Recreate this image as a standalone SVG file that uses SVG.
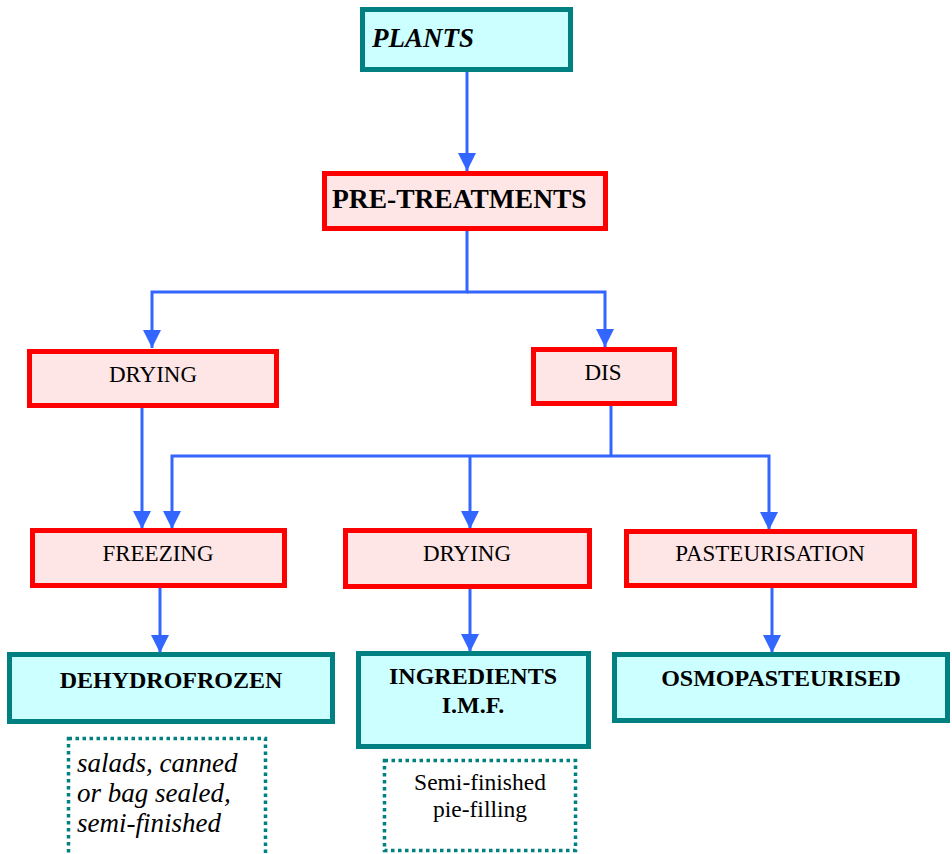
<svg xmlns="http://www.w3.org/2000/svg" width="952" height="854" viewBox="0 0 952 854">
<defs>
<marker id="arr" viewBox="0 0 18 18" refX="18" refY="9" markerWidth="18" markerHeight="18" markerUnits="userSpaceOnUse" orient="auto">
<path d="M0 0 L18 9 L0 18 z" fill="#3366FF"/>
</marker>
<style>
.red{fill:#FFE6E6;stroke:#FF0000;stroke-width:5}
.teal{fill:#CCFFFF;stroke:#008080;stroke-width:5}
.dot{fill:none;stroke:#008080;stroke-width:3.5;stroke-dasharray:3.5 3.5}
.c{fill:none;stroke:#3366FF;stroke-width:3}
text{font-family:"Liberation Serif","Times New Roman",serif;fill:#000}
.n{font-size:23px;text-anchor:middle}
.b{font-size:24px;font-weight:bold;text-anchor:middle}
.it{font-size:27px;font-style:italic}
</style>
</defs>
<rect width="952" height="854" fill="#fff"/>
<g id="connectors">
<path class="c" d="M467 72 V171" marker-end="url(#arr)"/>
<path class="c" d="M467 231 V292 H152 V348" marker-end="url(#arr)"/>
<path class="c" d="M467 292 H605 V347" marker-end="url(#arr)"/>
<path class="c" d="M142 408 V529" marker-end="url(#arr)"/>
<path class="c" d="M611 406 V456"/>
<path class="c" d="M611 456 H172 V529" marker-end="url(#arr)"/>
<path class="c" d="M611 456 H769 V530" marker-end="url(#arr)"/>
<path class="c" d="M470 456 V529" marker-end="url(#arr)"/>
<path class="c" d="M160 588 V653" marker-end="url(#arr)"/>
<path class="c" d="M470 589 V652" marker-end="url(#arr)"/>
<path class="c" d="M772 588 V653" marker-end="url(#arr)"/>
</g>
<g id="plants">
<rect class="teal" x="362.5" y="9.5" width="208" height="60"/>
<text x="372" y="47" style="font-size:27px;font-weight:bold;font-style:italic">PLANTS</text>
</g>
<g id="pretreatments">
<rect class="red" x="324.5" y="173.5" width="281" height="55"/>
<text x="332" y="208" style="font-size:27.5px;font-weight:bold">PRE-TREATMENTS</text>
</g>
<g id="drying1">
<rect class="red" x="29.5" y="351.5" width="247" height="54"/>
<text class="n" x="153" y="382">DRYING</text>
</g>
<g id="dis">
<rect class="red" x="533.5" y="349.5" width="141" height="54"/>
<text class="n" x="603" y="380">DIS</text>
</g>
<g id="freezing">
<rect class="red" x="32.5" y="530.5" width="252" height="55"/>
<text class="n" x="158" y="561">FREEZING</text>
</g>
<g id="drying2">
<rect class="red" x="345.5" y="530.5" width="244" height="56"/>
<text class="n" x="467" y="561">DRYING</text>
</g>
<g id="pasteurisation">
<rect class="red" x="626.5" y="531.5" width="288" height="54"/>
<text class="n" x="770" y="561">PASTEURISATION</text>
</g>
<g id="dehydrofrozen">
<rect class="teal" x="9.5" y="654.5" width="323" height="67"/>
<text class="b" x="171" y="688">DEHYDROFROZEN</text>
</g>
<g id="ingredients">
<rect class="teal" x="358.5" y="653.5" width="230" height="93"/>
<text class="b" x="473" y="684">INGREDIENTS</text>
<text class="b" x="473" y="713">I.M.F.</text>
</g>
<g id="osmopasteurised">
<rect class="teal" x="614.5" y="654.5" width="333" height="66"/>
<text class="b" x="781" y="686">OSMOPASTEURISED</text>
</g>
<g id="note1">
<rect class="dot" x="68.5" y="738.5" width="197" height="140"/>
<text class="it" x="77" y="772">salads, canned</text>
<text class="it" x="77" y="802">or bag sealed,</text>
<text class="it" x="77" y="832">semi-finished</text>
</g>
<g id="note2">
<rect class="dot" x="384.5" y="760.5" width="191" height="90"/>
<text x="480" y="790" style="font-size:23.5px;text-anchor:middle">Semi-finished</text>
<text x="480" y="817" style="font-size:23.5px;text-anchor:middle">pie-filling</text>
</g>
</svg>
